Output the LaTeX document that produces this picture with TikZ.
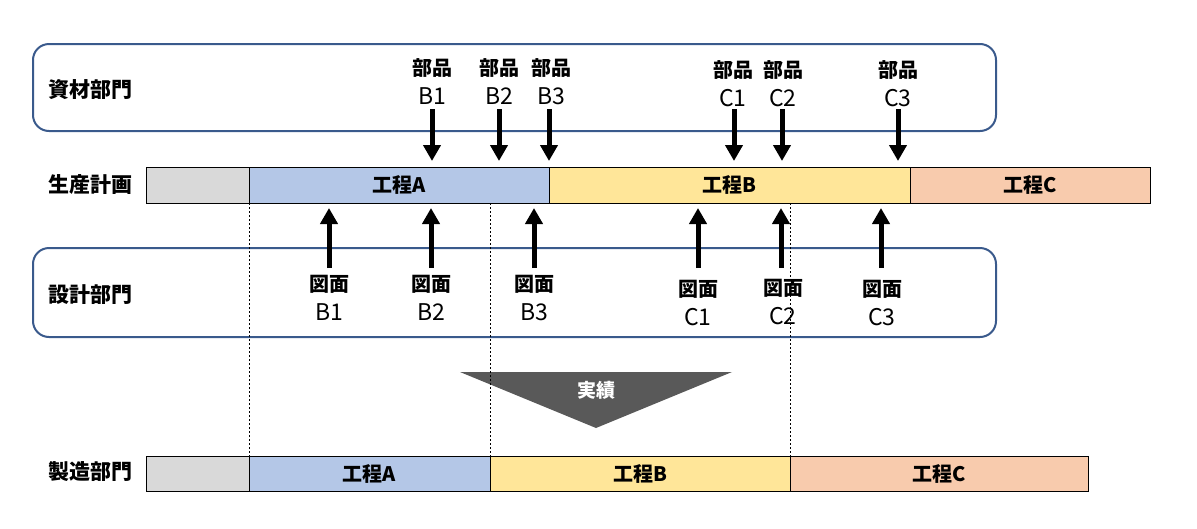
\documentclass[tikz,border=0pt]{standalone}
\usepackage{fontspec}
\newfontfamily\jp{Noto Sans CJK JP}
\usetikzlibrary{arrows.meta}
\definecolor{cgray}{HTML}{D9D9D9}
\definecolor{cblue}{HTML}{B4C7E7}
\definecolor{cyellow}{HTML}{FFE699}
\definecolor{corange}{HTML}{F8CBAD}
\definecolor{cframe}{HTML}{3A5A8C}
\definecolor{ctri}{HTML}{595959}
\newcommand{\lat}[1]{{\fontsize{23}{29}\selectfont #1}}
\begin{document}
\begin{tikzpicture}[x=1pt,y=-1pt,
  every node/.style={font=\jp\fontsize{20}{29}\selectfont},
  dept/.style={draw=cframe, line width=2pt, rounded corners=16pt, inner sep=0pt, outer sep=0pt},
  deptlabel/.style={font=\jp\bfseries\fontsize{21}{24}\selectfont, inner sep=0pt},
  seg/.style={draw=black, line width=1pt, inner sep=0pt, outer sep=0pt, font=\jp\bfseries\fontsize{20}{24}\selectfont},
  lbl/.style={align=center, inner sep=0pt},
  bigarrow/.style={line width=5pt, -{Triangle[width=17pt,length=16pt]}},
  guide/.style={line width=0.9pt, dash pattern=on 2pt off 2pt}]
\useasboundingbox (0,0) rectangle (1197,528);
% department frames
\node[dept, minimum width=963pt, minimum height=87pt] (mat) at (514.5,87.5) {};
\node[dept, minimum width=963pt, minimum height=89pt] (des) at (514.5,292.5) {};
\node[deptlabel] (matl) at (90,90) {資材部門};
\node[deptlabel] (plnl) at (90,185) {生産計画};
\node[deptlabel] (desl) at (90,295) {設計部門};
\node[deptlabel] (mfgl) at (90,472) {製造部門};
% plan bar
\node[seg, fill=cgray, minimum width=103pt, minimum height=36pt] (p0) at (197.5,185) {};
\node[seg, fill=cblue, minimum width=300pt, minimum height=36pt] (pA) at (399,185) {工程A};
\node[seg, fill=cyellow, minimum width=361pt, minimum height=36pt] (pB) at (729.5,185) {工程B};
\node[seg, fill=corange, minimum width=240pt, minimum height=36pt] (pC) at (1030,185) {工程C};
% manufacturing bar
\node[seg, fill=cgray, minimum width=103pt, minimum height=35pt] (m0) at (197.5,473.5) {};
\node[seg, fill=cblue, minimum width=241pt, minimum height=35pt] (mA) at (369.5,473.5) {工程A};
\node[seg, fill=cyellow, minimum width=300pt, minimum height=35pt] (mB) at (640,473.5) {工程B};
\node[seg, fill=corange, minimum width=298pt, minimum height=35pt] (mC) at (939,473.5) {工程C};
% parts labels
\node[lbl] (pb1) at (432,82) {\textbf{部品}\\\lat{B1}};
\node[lbl] (pb2) at (499,82) {\textbf{部品}\\\lat{B2}};
\node[lbl] (pb3) at (551,82) {\textbf{部品}\\\lat{B3}};
\node[lbl] (pc1) at (733,84) {\textbf{部品}\\\lat{C1}};
\node[lbl] (pc2) at (783,84) {\textbf{部品}\\\lat{C2}};
\node[lbl] (pc3) at (898,84) {\textbf{部品}\\\lat{C3}};
% drawing labels
\node[lbl] (db1) at (329,298) {\textbf{図面}\\\lat{B1}};
\node[lbl] (db2) at (431,298) {\textbf{図面}\\\lat{B2}};
\node[lbl] (db3) at (534,298) {\textbf{図面}\\\lat{B3}};
\node[lbl] (dc1) at (698,303) {\textbf{図面}\\\lat{C1}};
\node[lbl] (dc2) at (783,302) {\textbf{図面}\\\lat{C2}};
\node[lbl] (dc3) at (882,303) {\textbf{図面}\\\lat{C3}};
% arrow coordinates
\foreach \n/\x in {b1/432,b2/499,b3/549,c1/734,c2/782,c3/898}{
  \coordinate (s\n) at (\x,109);
  \coordinate (e\n) at (\x,161);
}
\foreach \n/\x in {b1/329,b2/431,b3/534,c1/698,c2/781,c3/881}{
  \coordinate (u\n) at (\x,268);
  \coordinate (v\n) at (\x,208);
}
\foreach \n in {b1,b2,b3,c1,c2,c3}{
  \draw[bigarrow] (s\n) -- (e\n);
  \draw[bigarrow] (u\n) -- (v\n);
}
% results triangle
\coordinate (t1) at (460,372);
\coordinate (t2) at (732,372);
\coordinate (t3) at (596,428);
\fill[ctri] (t1) -- (t2) -- (t3) -- cycle;
\node[text=white, font=\jp\bfseries\fontsize{19}{22}\selectfont, inner sep=0pt] (res) at (596,390) {実績};
% guide lines
\coordinate (g1a) at (249,203); \coordinate (g1b) at (249,456);
\coordinate (g2a) at (490,203); \coordinate (g2b) at (490,456);
\coordinate (g3a) at (790,203); \coordinate (g3b) at (790,456);
\draw[guide] (g1a) -- (g1b);
\draw[guide] (g2a) -- (g2b);
\draw[guide] (g3a) -- (g3b);
\end{tikzpicture}
\end{document}
